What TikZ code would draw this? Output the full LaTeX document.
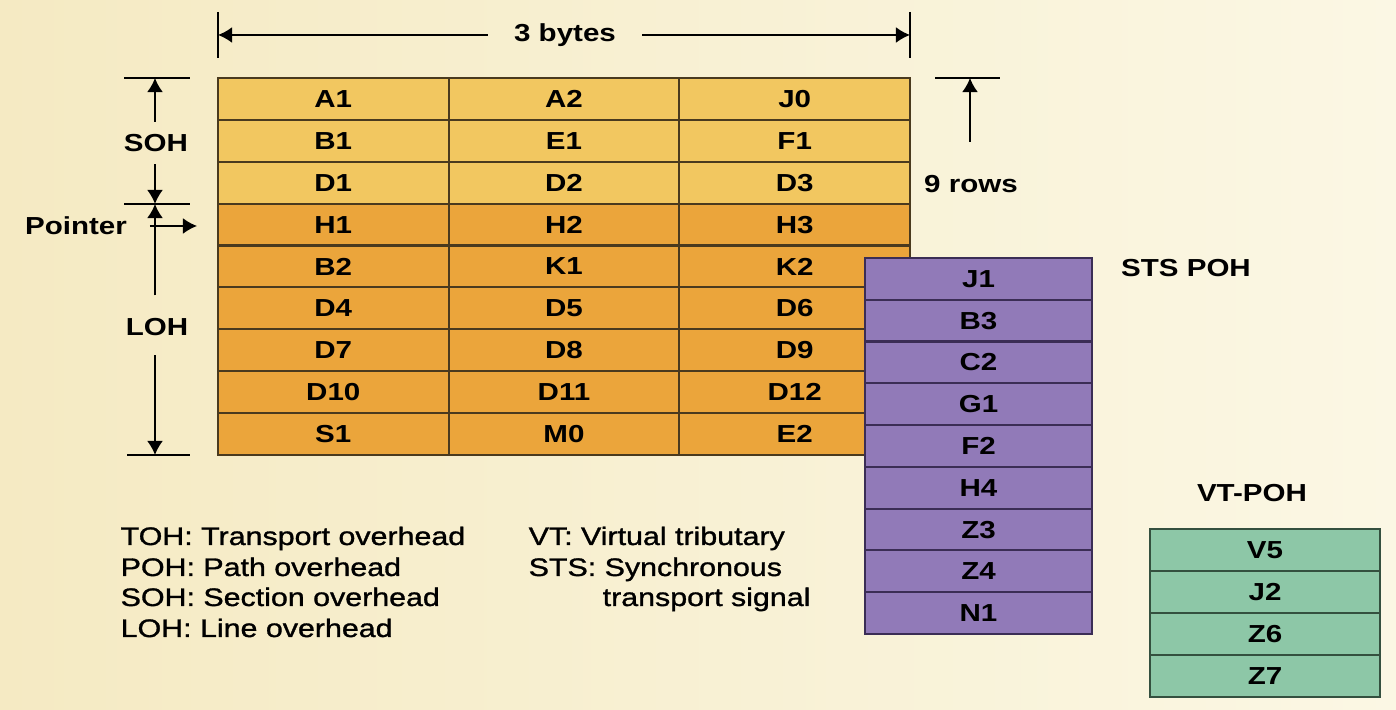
\documentclass[tikz,border=0pt]{standalone}
\usepackage{fontspec}
\setmainfont[FakeStretch=1.2]{Liberation Sans}
\newfontfamily\legendfont[FakeStretch=1.2,FakeBold=1.2]{Liberation Sans}
\usepackage{tikz}
\usetikzlibrary{arrows.meta}
\usetikzlibrary{calc}

\definecolor{bgleft}{HTML}{F5EAC3}
\definecolor{bgright}{HTML}{FBF7E4}
\definecolor{sohyellow}{HTML}{F2C760}
\definecolor{lohorange}{HTML}{EBA53B}
\definecolor{stspurple}{HTML}{917AB8}
\definecolor{vtgreen}{HTML}{8DC7A7}
\definecolor{gridline}{HTML}{4A3A1E}
\definecolor{purpleline}{HTML}{3B2D55}
\definecolor{greenline}{HTML}{34503F}

\begin{document}
\begin{tikzpicture}[x=0.01cm,y=-0.01cm,
    cell/.style={draw=gridline,line width=0.6pt,minimum width=2.307cm,minimum height=0.419cm,
        inner sep=0pt,font=\bfseries\fontsize{7}{8}\selectfont},
    lbl/.style={font=\bfseries\fontsize{7}{8}\selectfont},
    leg/.style={anchor=base west,inner sep=0pt,font=\legendfont\fontsize{7.2}{8}\selectfont},
    dim/.style={line width=0.45pt},
    >={Latex[length=4pt,width=4.5pt]}]

    % background
    \shade[left color=bgleft,right color=bgright] (0,0) rectangle (1396,710);
    \useasboundingbox (0,0) rectangle (1396,710);

    % transport overhead, 3 x 9
    \foreach \a/\b/\c [count=\r] in {A1/A2/J0,B1/E1/F1,D1/D2/D3,H1/H2/H3,B2/K1/K2,D4/D5/D6,D7/D8/D9,D10/D11/D12,S1/M0/E2}{
        \ifnum\r<4 \def\fc{sohyellow}\else\def\fc{lohorange}\fi
        \node[cell,fill=\fc] (t\r-1) at (333.3,{78+41.89*(\r-0.5)}) {\a};
        \node[cell,fill=\fc] (t\r-2) at (564.0,{78+41.89*(\r-0.5)}) {\b};
        \node[cell,fill=\fc] (t\r-3) at (794.7,{78+41.89*(\r-0.5)}) {\c};
    }

    % STS path overhead
    \foreach \t [count=\r] in {J1,B3,C2,G1,F2,H4,Z3,Z4,N1}
        \node[cell,draw=purpleline,fill=stspurple,minimum width=2.27cm,minimum height=0.418cm]
            (p\r) at (978.5,{258+41.78*(\r-0.5)}) {\t};

    % VT path overhead
    \foreach \t [count=\r] in {V5,J2,Z6,Z7}
        \node[cell,draw=greenline,fill=vtgreen,minimum width=2.3cm,minimum height=0.42cm]
            (v\r) at (1265,{529+42*(\r-0.5)}) {\t};

    % labels
    \node[lbl] (bytes) at (565,35) {3 bytes};
    \node[lbl] (rows) at (971,184) {9 rows};
    \node[lbl] (stspoh) at (1186,268) {STS POH};
    \node[lbl] (vtpoh) at (1252,493) {VT-POH};
    \node[lbl] (soh) at (156,143) {SOH};
    \node[lbl] (loh) at (157,327) {LOH};
    \node[lbl] (ptr) at (76,226) {Pointer};

    \coordinate (tl) at (218,35);
    \coordinate (tr) at (910,35);
    \coordinate (sohtop) at (155,78);
    \coordinate (sohbot) at (155,204);
    \coordinate (lohbot) at (155,455);
    \coordinate (ptrtip) at (197,226);
    \coordinate (rowstop) at (970,78);

    % dimension lines
    \draw[dim] (218,12) -- (218,58);
    \draw[dim] (910,12) -- (910,58);
    \draw[dim,->] ([xshift=-4pt]bytes.west) -- (tl);
    \draw[dim,->] ([xshift=4pt]bytes.east) -- (tr);

    \draw[dim] (124,78) -- (190,78);
    \draw[dim] (124,204) -- (190,204);
    \draw[dim] (127,455) -- (190,455);
    \draw[dim,->] (soh.north -| sohtop) -- (sohtop);
    \draw[dim,->] (soh.south -| sohtop) -- (sohbot);
    \draw[dim,->] ([yshift=3pt]loh.north -| sohtop) -- (sohbot);
    \draw[dim,->] ([yshift=-2pt]loh.south -| sohtop) -- (lohbot);
    \draw[dim,->] ([xshift=3pt]ptr.east) -- (ptrtip);

    \draw[dim] (935,78) -- (1000,78);
    \draw[dim,->] ([yshift=6pt]rows.north -| rowstop) -- (rowstop);
    \draw[dim] (rows.south -| rowstop) -- (rows.south -| rowstop |- p1.north);

    % legend
    \node[leg] (leg1) at (120,545) {TOH: Transport overhead};
    \node[leg] (leg2) at (120,576) {POH: Path overhead};
    \node[leg] (leg3) at (120,606) {SOH: Section overhead};
    \node[leg] (leg4) at (120,637) {LOH: Line overhead};
    \node[leg] (leg5) at (528,545) {VT: Virtual tributary};
    \node[leg] (leg6) at (528,576) {STS: Synchronous};
    \node[leg] (leg7) at (602,606) {transport signal};
\end{tikzpicture}
\end{document}
